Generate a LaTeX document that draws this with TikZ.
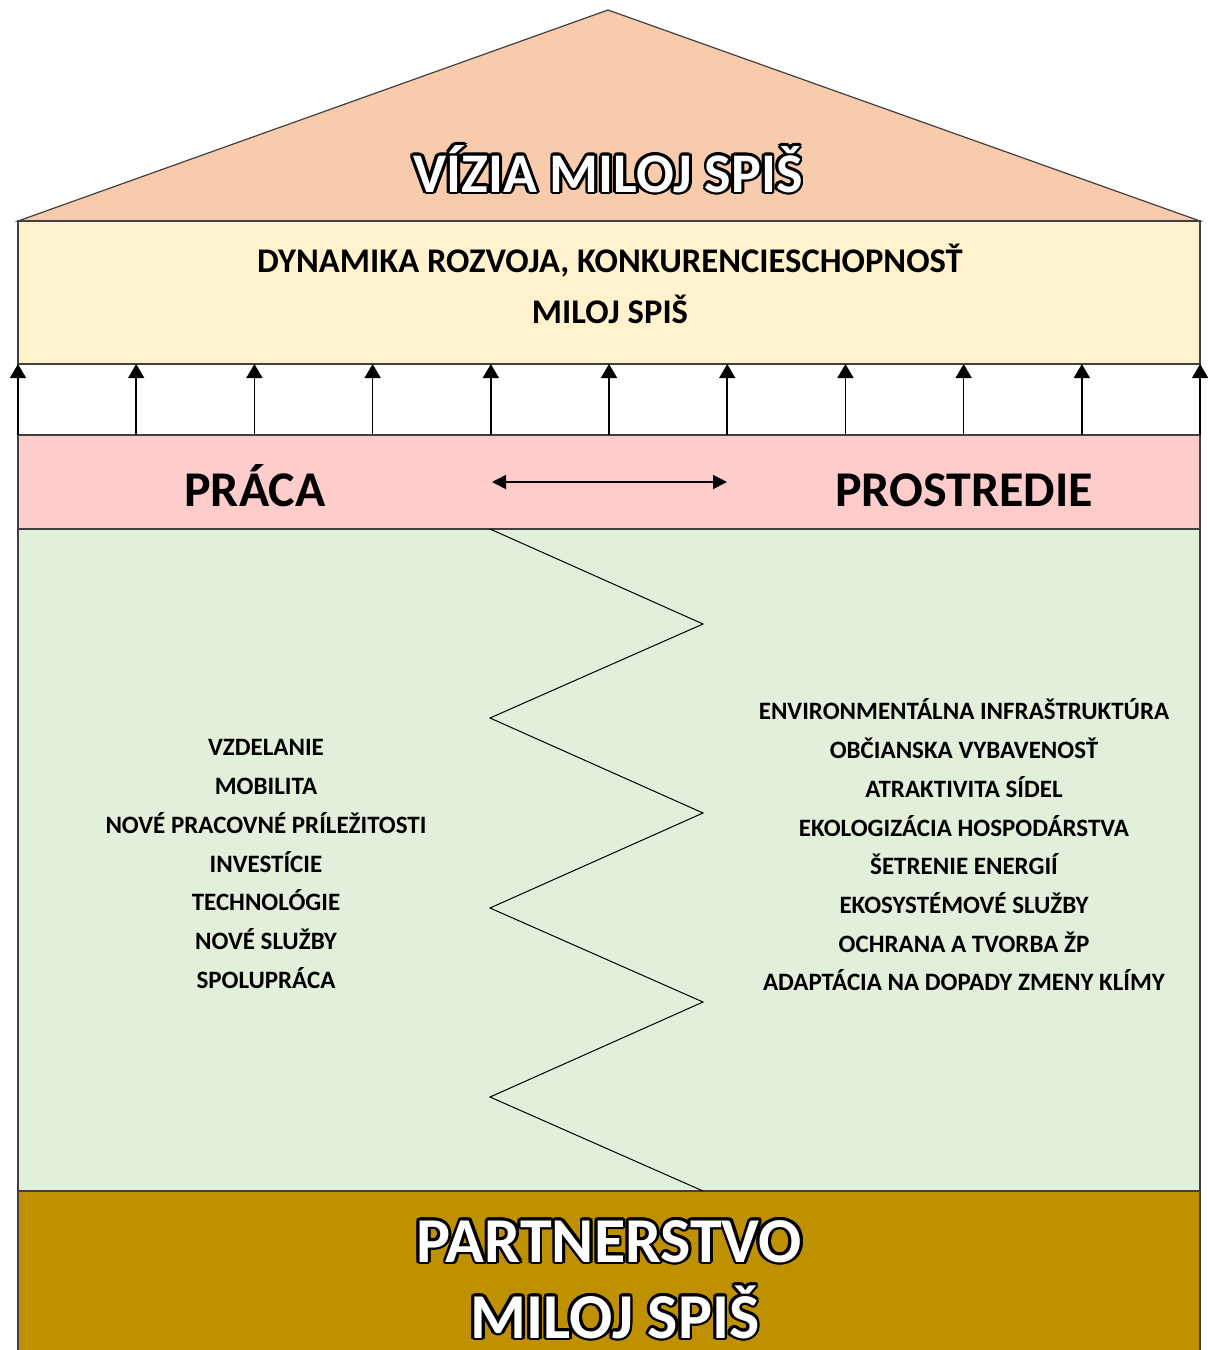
\documentclass[tikz,border=0pt]{standalone}
\usepackage{fontspec}
\setmainfont{Carlito}
\usepackage{contour}
\contourlength{1.4pt}
\usetikzlibrary{arrows.meta,calc}
\definecolor{croof}{HTML}{F8CBAD}
\definecolor{cyel}{HTML}{FFF2CC}
\definecolor{cpink}{HTML}{FFCCCC}
\definecolor{cgreen}{HTML}{E2EFDA}
\definecolor{cgold}{HTML}{BF9000}
\definecolor{cline}{HTML}{404040}
\tikzset{
  box/.style={draw=cline, line width=1pt, inner sep=0pt, outer sep=0pt},
  uparr/.style={line width=0.8pt, -{Triangle[width=8pt,length=7pt]}},
  dblarr/.style={line width=0.8pt, {Triangle[width=7pt,length=7pt]}-{Triangle[width=7pt,length=7pt]}},
  outl/.style={text=white, font=\bfseries\fontsize{#1}{#1}\selectfont, inner sep=0pt, anchor=base},
  head/.style={font=\bfseries\fontsize{#1}{#1}\selectfont, inner sep=0pt, anchor=base},
  item/.style={font=\bfseries\fontsize{12.5}{19.35}\selectfont, align=center, inner sep=0pt},
}
\begin{document}
\begin{tikzpicture}[x=0.5pt,y=-0.5pt]
\clip (0,0) rectangle (1208,1350);
\fill[white] (0,0) rectangle (1208,1350);
% roof
\coordinate (rl) at (18,221);
\coordinate (rt) at (608,10);
\coordinate (rr) at (1200,221);
\draw[fill=croof, draw=cline, line width=0.6pt] (rl) -- (rt) -- (rr) -- cycle;
\node[outl=28] (vizia) at (608,192) {\contour{black}{VÍZIA MILOJ SPIŠ}};
% boxes
\node[box, fill=cyel, minimum width=591pt, minimum height=71.5pt] (dyn) at (609,292.5) {};
\node[box, fill=cpink, minimum width=591pt, minimum height=47pt] (mid) at (609,482) {};
\node[box, fill=cgreen, minimum width=591pt, minimum height=331pt] (env) at (609,860) {};
\node[box, fill=cgold, minimum width=591pt, minimum height=90pt] (part) at (609,1281) {};
% texts
\node[head=17.3] (dyn1) at (610,272) {DYNAMIKA ROZVOJA, KONKURENCIESCHOPNOSŤ};
\node[head=17.3] (dyn2) at (610,323) {MILOJ SPIŠ};
\node[head=25] (praca) at (255,506) {PRÁCA};
\node[head=25] (prostr) at (964,506) {PROSTREDIE};
\coordinate (dl) at (492,482);
\coordinate (dr) at (727,482);
\draw[dblarr] (dl) -- (dr);
% up arrows
\foreach \t in {0,0.1,...,1.01}{
  \draw[uparr] ($(mid.north west)!\t!(mid.north east)$) -- ($(dyn.south west)!\t!(dyn.south east)$);
}
% zigzag
\draw[line width=0.5pt, black] (490,529) -- (703,624) -- (490,718) -- (703,813) -- (490,908) -- (703,1002) -- (490,1097) -- (703,1191);
% lists
\node[item] (left) at (266,864) {VZDELANIE\\MOBILITA\\NOVÉ PRACOVNÉ PRÍLEŽITOSTI\\INVESTÍCIE\\TECHNOLÓGIE\\NOVÉ SLUŽBY\\SPOLUPRÁCA};
\node[item] (right) at (964,845) {ENVIRONMENTÁLNA INFRAŠTRUKTÚRA\\OBČIANSKA VYBAVENOSŤ\\ATRAKTIVITA SÍDEL\\EKOLOGIZÁCIA HOSPODÁRSTVA\\ŠETRENIE ENERGIÍ\\EKOSYSTÉMOVÉ SLUŽBY\\OCHRANA A TVORBA ŽP\\ADAPTÁCIA NA DOPADY ZMENY KLÍMY};
% bottom
\node[outl=32] (part1) at (609,1262) {\contour{black}{PARTNERSTVO}};
\node[outl=32] (part2) at (615,1338) {\contour{black}{MILOJ SPIŠ}};
\end{tikzpicture}
\end{document}
